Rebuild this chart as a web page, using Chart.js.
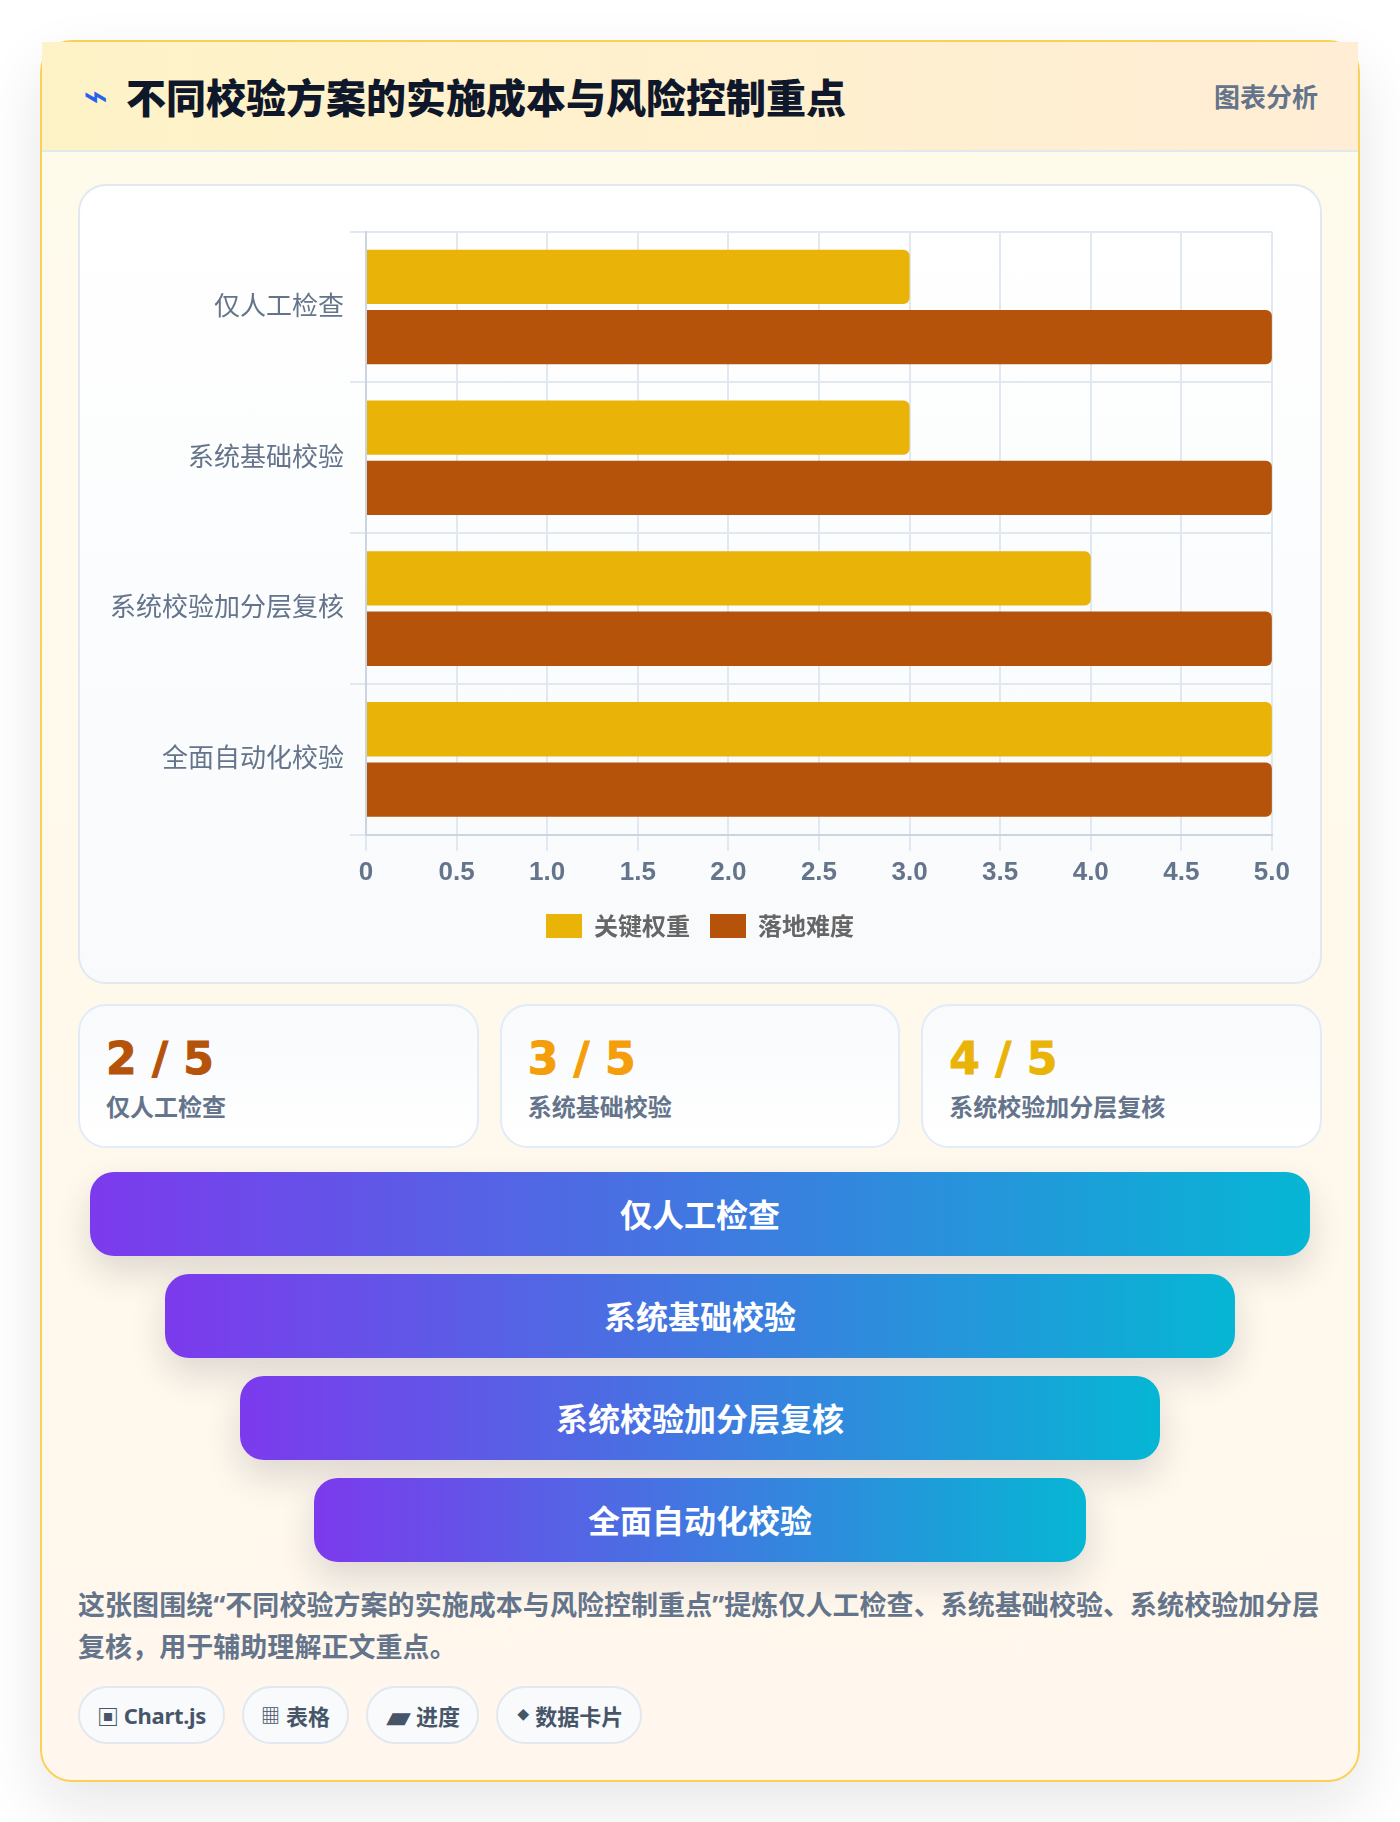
<!DOCTYPE html>
<html lang="zh-CN">
<head>
<meta charset="utf-8">
<title>不同校验方案的实施成本与风险控制重点</title>
<script src="https://cdn.jsdelivr.net/npm/chart.js@4"></script>
<style>
  * { box-sizing: border-box; }
  html, body { margin: 0; padding: 0; background: #fff; }
  body {
    width: 1400px;
    height: 1822px;
    overflow: hidden;
    padding: 40px;
    font-family: "Noto Sans", "Noto Sans CJK SC", sans-serif;
  }
  .card {
    width: 1320px;
    height: 1742px;
    border: 2px solid #f9d058;
    border-radius: 32px;
    background: linear-gradient(180deg, #fffbeb, #fff7ed);
    box-shadow: 0 24px 60px rgba(15, 23, 42, 0.1);
  }
  .card-header {
    height: 110px;
    padding: 0 40px 0 41px;
    display: flex;
    align-items: center;
    background: linear-gradient(90deg, #fef3c7, #ffedd5);
    border-bottom: 2px solid #e2e8f0;
  }
  .icon { font-family: "DejaVu Sans"; font-size: 42px; line-height: 50px; color: #2563eb; width: 43px; }
  .title { font-size: 40px; font-weight: 900; color: #0f172a; flex: 1; }
  .kind { font-size: 26px; font-weight: 700; color: #64748b; }
  .card-body { padding: 32px 34px 0 34px; }
  .chart-box {
    position: relative;
    height: 800px;
    margin-left: 2px;
    width: 1244px;
    border: 2px solid #e2e8f0;
    border-radius: 28px;
    background: linear-gradient(180deg, #fff, #f8fafc);
  }
  .chart-wrap { position: absolute; left: 24px; top: 24px; width: 1192px; height: 738px; }
  .stats { display: flex; gap: 21px; margin: 20px 0 0 2px; width: 1244px; }
  .stat {
    flex: 1;
    height: 144px;
    padding: 26px 26px;
    border: 2px solid #e2ecf8;
    border-radius: 28px;
    background: linear-gradient(180deg, #f8fafc, #fff);
  }
  .stat b { display: block; font-family: "DejaVu Sans"; font-size: 44px; line-height: 54px; -webkit-text-stroke: 1px currentColor; }
  .stat span { display: block; font-size: 24px; font-weight: 700; color: #64748b; line-height: 36px; margin-top: 3px; }
  .stat:nth-child(1) b { color: #b45309; }
  .stat:nth-child(2) b { color: #f59e0b; }
  .stat:nth-child(3) b { color: #eab308; }
  .funnel { margin: 24px 0 0 2px; width: 1244px; }
  .funnel div {
    height: 84px;
    margin: 0 auto 18px;
    padding-bottom: 2px;
    border-radius: 24px;
    display: flex;
    align-items: center;
    justify-content: center;
    color: #fff;
    font-size: 32px;
    font-weight: 700;
    background: linear-gradient(90deg, #7c3aed, #06b6d4);
    box-shadow: 0 16px 36px rgba(15, 23, 42, 0.14);
  }
  .funnel div:nth-child(1) { width: 98%; }
  .funnel div:nth-child(2) { width: 86%; }
  .funnel div:nth-child(3) { width: 74%; }
  .funnel div:nth-child(4) { width: 62%; }
  .note {
    margin: 22px 0 0 2px;
    width: 1244px;
    font-size: 27px;
    line-height: 42px;
    font-weight: 700;
    letter-spacing: 0.05px;
    color: #64748b;
  }
  .tags { display: flex; gap: 17px; margin: 18px 0 0 2px; }
  .tags span {
    height: 58px;
    padding: 0 17px;
    display: flex;
    align-items: center;
    border: 2px solid #e2e8f0;
    border-radius: 29px;
    background: #f8fafc;
    color: #475569;
    font-size: 22px;
    font-weight: 700;
    white-space: pre;
  }
  .tags i { font-style: normal; font-weight: 700; margin-right: 5px; }
  .tags span:nth-child(1) { letter-spacing: -0.3px; }
  .tags span:nth-child(2) i { font-size: 19px; margin-right: 6px; }
  .tags span:nth-child(3) i { font-size: 30px; margin: 0 6px 0 2px; }
  .tags span:nth-child(4) i { font-size: 12px; margin: 0 6px 0 2px; }
</style>
</head>
<body>
<div class="card">
  <div class="card-header">
    <span class="icon">⌁</span>
    <span class="title" id="title"></span>
    <span class="kind">图表分析</span>
  </div>
  <div class="card-body">
    <div class="chart-box">
      <div class="chart-wrap"><canvas id="chart"></canvas></div>
    </div>
    <div class="stats" id="stats"></div>
    <div class="funnel" id="funnel"></div>
    <div class="note" id="note"></div>
    <div class="tags" id="tags"></div>
  </div>
</div>
<script>
// Chart data
const chartTitle = "不同校验方案的实施成本与风险控制重点";
const categories = ["仅人工检查", "系统基础校验", "系统校验加分层复核", "全面自动化校验"];
const seriesNames = ["关键权重", "落地难度"];
const weightValues = [3, 3, 4, 5];
const difficultyValues = [5, 5, 5, 5];
const statValues = ["2 / 5", "3 / 5", "4 / 5"];
const statLabels = ["仅人工检查", "系统基础校验", "系统校验加分层复核"];
const funnelLabels = ["仅人工检查", "系统基础校验", "系统校验加分层复核", "全面自动化校验"];
const noteText = "这张图围绕“不同校验方案的实施成本与风险控制重点”提炼仅人工检查、系统基础校验、系统校验加分层复核，用于辅助理解正文重点。";
const tagIcons = ["▣", "▦", "▰", "◆"];
const tagLabels = ["Chart.js", "表格", "进度", "数据卡片"];

document.getElementById("title").textContent = chartTitle;
document.getElementById("note").textContent = noteText;

// Stat cards
statValues.forEach((value, i) => {
  const stat = document.createElement("div");
  stat.className = "stat";
  stat.innerHTML = `<b>${value}</b><span>${statLabels[i]}</span>`;
  document.getElementById("stats").appendChild(stat);
});

// Funnel rows
funnelLabels.forEach((label) => {
  const row = document.createElement("div");
  row.textContent = label;
  document.getElementById("funnel").appendChild(row);
});

// Tags
tagLabels.forEach((label, i) => {
  const tag = document.createElement("span");
  tag.innerHTML = `<i>${tagIcons[i]}</i>${label}`;
  document.getElementById("tags").appendChild(tag);
});

// Bar chart
new Chart(document.getElementById("chart"), {
  type: "bar",
  data: {
    labels: categories,
    datasets: [
      { label: seriesNames[0], data: weightValues, backgroundColor: "#eab308", borderRadius: 6 },
      { label: seriesNames[1], data: difficultyValues, backgroundColor: "#b45309", borderRadius: 6 },
    ],
  },
  options: {
    indexAxis: "y",
    responsive: true,
    maintainAspectRatio: false,
    animation: false,
    plugins: {
      legend: {
        position: "bottom",
        labels: {
          boxWidth: 36,
          boxHeight: 24,
          padding: 20,
          color: "#666",
          font: { family: "Noto Sans CJK SC", size: 24, weight: "bold" },
        },
      },
      tooltip: { enabled: false },
    },
    scales: {
      x: {
        min: 0,
        max: 5,
        ticks: {
          stepSize: 0.5,
          color: "#64748b",
          padding: 6,
          font: { family: "Liberation Sans", size: 26, weight: "bold" },
        },
        grid: { color: "#e2e8f0", lineWidth: 2, tickLength: 16 },
        border: { color: "#cbd5e1", width: 2 },
      },
      y: {
        ticks: {
          color: "#64748b",
          padding: 6,
          labelOffset: -2,
          font: { family: "Noto Sans CJK SC", size: 26 },
        },
        grid: { color: "#e2e8f0", lineWidth: 2, tickLength: 16 },
        border: { color: "#cbd5e1", width: 2 },
      },
    },
  },
});
</script>
</body>
</html>
